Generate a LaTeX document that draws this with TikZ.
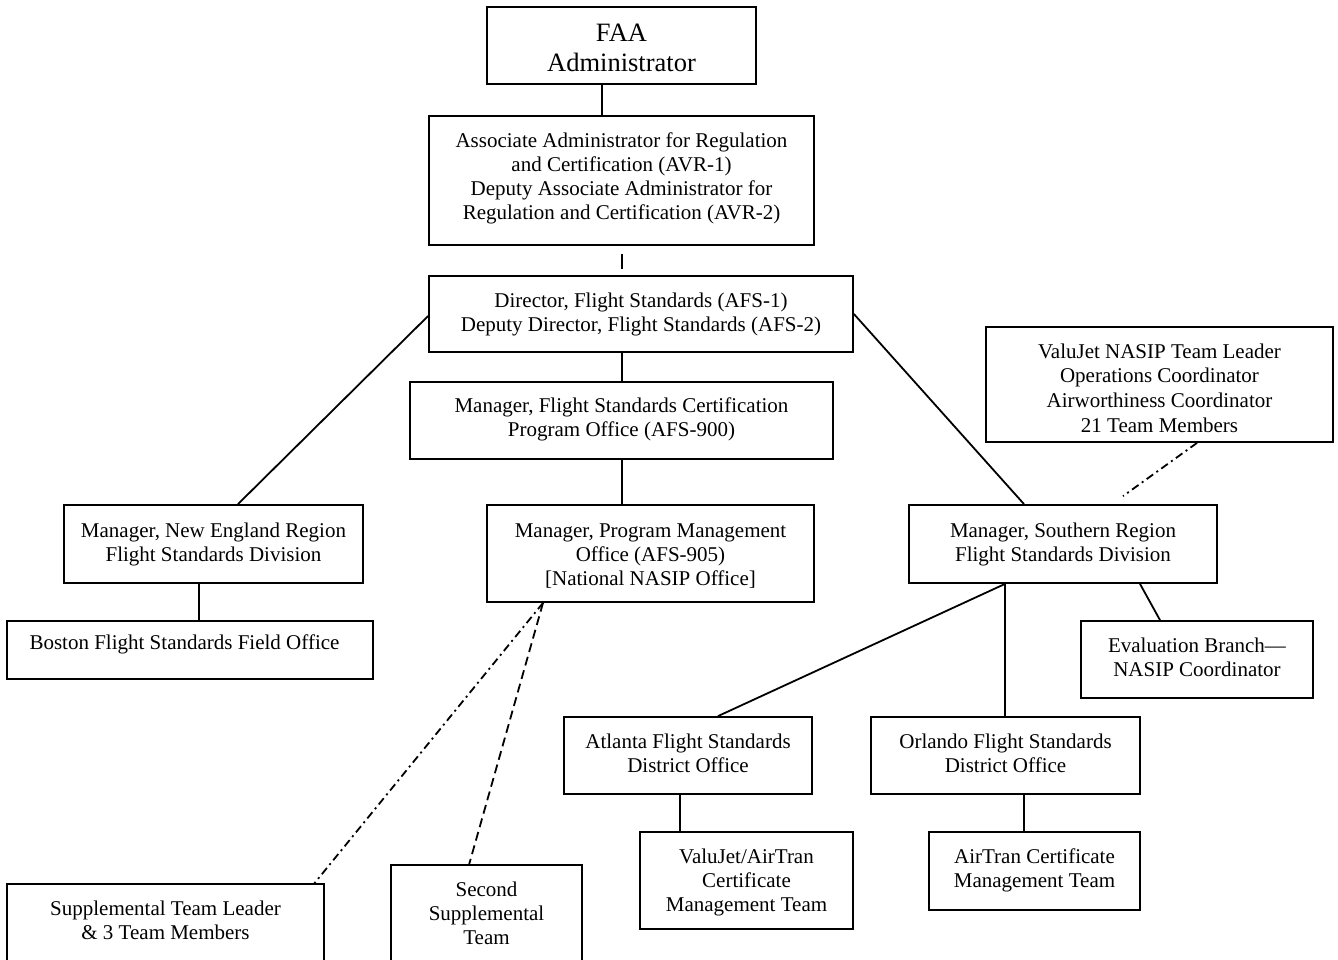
\documentclass[tikz,border=0pt]{standalone}
\usepackage{fontspec}
\setmainfont{Liberation Serif}
\begin{document}
\begin{tikzpicture}[x=1pt,y=-1pt,
  ln/.style={line width=1.8pt},
  txt/.style={inner sep=0pt, align=center, font=\fontsize{21}{24}\selectfont},
  box/.style={draw, ln, rectangle, inner sep=0pt},
  dashdot/.style={ln, dash pattern=on 8pt off 4pt on 2pt off 4pt},
  dashline/.style={ln, dash pattern=on 9pt off 5pt}]
\useasboundingbox (0,0) rectangle (1338,959);
\clip (0,0) rectangle (1338,959);
\fill[white] (0,0) rectangle (1338,959);

\node[box, minimum width=269pt, minimum height=77pt,
  label={[txt, font=\fontsize{26.5}{30}\selectfont, yshift=-2.5pt]center:{FAA\\Administrator}}] (faa) at (621.5,45.5) {};
\node[box, minimum width=385pt, minimum height=129pt,
  label={[txt, yshift=2pt]center:{Associate Administrator for Regulation\\and Certification (AVR-1)\\Deputy Associate Administrator for\\Regulation and Certification (AVR-2)}}] (avr) at (621.5,180.5) {};
\node[box, minimum width=424pt, minimum height=76pt,
  label={[txt]center:{Director, Flight Standards (AFS-1)\\Deputy Director, Flight Standards (AFS-2)}}] (afs) at (641,314) {};
\node[box, minimum width=423pt, minimum height=77pt,
  label={[txt, yshift=1pt]center:{Manager, Flight Standards Certification\\Program Office (AFS-900)}}] (afsnine) at (621.5,420.5) {};
\node[box, minimum width=327pt, minimum height=97pt,
  label={[txt, yshift=-3pt]center:{Manager, Program Management\\Office (AFS-905)\\{[National NASIP Office]}}}] (pmo) at (650.5,553.5) {};
\node[box, minimum width=299pt, minimum height=78pt,
  label={[txt]center:{Manager, New England Region\\Flight Standards Division}}] (ne) at (213.5,544) {};
\node[box, minimum width=366pt, minimum height=58pt,
  label={[txt, yshift=6pt, xshift=-5.5pt]center:{Boston Flight Standards Field Office}}] (bos) at (190,650) {};
\node[box, minimum width=308pt, minimum height=78pt,
  label={[txt]center:{Manager, Southern Region\\Flight Standards Division}}] (sou) at (1063,544) {};
\node[box, minimum width=347pt, minimum height=115pt,
  label={[txt, font=\fontsize{21}{24.6}\selectfont, yshift=-3.5pt]center:{ValuJet NASIP Team Leader\\Operations Coordinator\\Airworthiness Coordinator\\21 Team Members}}] (vj) at (1159.5,384.5) {};
\node[box, minimum width=232pt, minimum height=77pt,
  label={[txt, yshift=2pt]center:{Evaluation Branch---\\NASIP Coordinator}}] (ev) at (1197,659.5) {};
\node[box, minimum width=248pt, minimum height=77pt,
  label={[txt, yshift=2pt]center:{Atlanta Flight Standards\\District Office}}] (atl) at (688,755.5) {};
\node[box, minimum width=269pt, minimum height=77pt,
  label={[txt, yshift=2pt]center:{Orlando Flight Standards\\District Office}}] (orl) at (1005.5,755.5) {};
\node[box, minimum width=213pt, minimum height=97pt,
  label={[txt, yshift=-2pt]center:{ValuJet/AirTran\\Certificate\\Management Team}}] (vat) at (746.5,880.5) {};
\node[box, minimum width=211pt, minimum height=78pt,
  label={[txt, yshift=1pt]center:{AirTran Certificate\\Management Team}}] (atc) at (1034.5,871) {};
\node[rectangle, inner sep=0pt, minimum width=317pt, minimum height=72pt,
  label={[txt]center:{Supplemental Team Leader\\\& 3 Team Members}}] (sup) at (165.5,920) {};
\node[rectangle, inner sep=0pt, minimum width=191pt, minimum height=96pt,
  label={[txt]center:{Second\\Supplemental\\Team}}] (sec) at (486.5,913) {};
\draw[ln] ([yshift=-30]sup.south west) -- (sup.north west) -- (sup.north east) -- ([yshift=-30]sup.south east);
\draw[ln] ([yshift=-30]sec.south west) -- (sec.north west) -- (sec.north east) -- ([yshift=-30]sec.south east);

\draw[ln] ([xshift=-19.5]faa.south) -- ([xshift=-19.5]avr.north);
\draw[ln] ([xshift=0.5,yshift=-8]avr.south) -- ([xshift=-19,yshift=6]afs.north);
\draw[ln] ([xshift=-19]afs.south) -- ([xshift=0.5]afsnine.north);
\draw[ln] ([xshift=0.5]afsnine.south) -- ([xshift=-28.5]pmo.north);
\draw[ln] ([yshift=-2]afs.west) -- ([xshift=24.5]ne.north);
\draw[ln] (afs.east) -- ([xshift=-39]sou.north);
\draw[ln] ([xshift=-14.5]ne.south) -- ([xshift=9]bos.north);
\draw[dashdot] ([xshift=37.5]vj.south) -- ([xshift=60,yshift=8]sou.north);
\draw[ln] ([xshift=77]sou.south) -- ([xshift=-37]ev.north);
\draw[ln] ([xshift=-58]sou.south) -- ([xshift=30]atl.north);
\draw[ln] ([xshift=-58]sou.south) -- ([xshift=-0.5]orl.north);
\draw[ln] ([xshift=-8]atl.south) -- ([xshift=-66.5]vat.north);
\draw[ln] ([xshift=18.5]orl.south) -- ([xshift=-10.5]atc.north);
\draw[dashdot] ([xshift=-107.5]pmo.south) -- ([xshift=148.5]sup.north);
\draw[dashline] ([xshift=-107.5]pmo.south) -- ([xshift=-17.5]sec.north);
\end{tikzpicture}
\end{document}
